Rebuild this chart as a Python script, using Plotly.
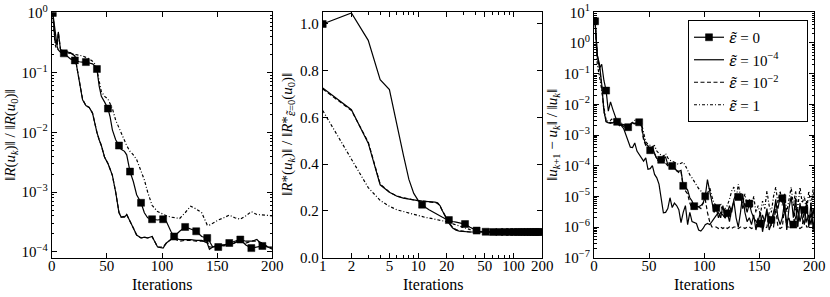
import plotly.graph_objects as go

# ---------------- data ----------------
EPS = '<span style="font-family:Noto Serif"><i>ε̃</i></span>'
PAD = "\u00a0" * 6
series_names = [EPS + " = 0" + PAD, EPS + " = 10<sup>−4</sup>" + PAD, EPS + " = 10<sup>−2</sup>" + PAD, EPS + " = 1" + PAD]

# Left panel: ||R(u_k)|| / ||R(u_0)||
it_left = [1, 2, 3, 4, 5, 6, 8, 11, 14, 17, 21, 23, 25, 28, 31, 34, 37, 39, 41, 43, 45, 48,
           51, 53, 55, 58, 61, 63, 66, 68, 71, 74, 77, 81, 84, 87, 91, 96, 101, 104, 108,
           111, 116, 121, 126, 131, 136, 141, 143, 146, 151, 156, 161, 166, 171, 176, 181,
           186, 191, 196, 200]
left_e0 = [1.0, 0.7, 0.45, 0.33, 0.27, 0.24, 0.22, 0.21, 0.19, 0.17, 0.16, 0.155, 0.152, 0.15,
           0.15, 0.145, 0.14, 0.13, 0.115, 0.06, 0.04, 0.032, 0.025, 0.018, 0.011, 0.0075,
           0.006, 0.0052, 0.0048, 0.0042, 0.0022, 0.0015, 0.0009, 0.00066, 0.00045, 0.00037,
           0.00035, 0.00034, 0.00035, 0.00032, 0.00022, 0.00018, 0.00022, 0.00026, 0.00024,
           0.00022, 0.00018, 0.00017, 0.00015, 0.00012, 0.00012, 0.00013, 0.00014, 0.00015,
           0.00016, 0.00013, 0.000115, 0.00012, 0.000125, 0.00012, 0.00012]
left_e4 = [1.0, 0.6, 0.35, 0.3, 0.3, 0.48, 0.24, 0.23, 0.225, 0.215, 0.19, 0.12, 0.065, 0.035,
           0.028, 0.026, 0.021, 0.014, 0.010, 0.0075, 0.006, 0.0038, 0.003, 0.0024, 0.0019,
           0.0010, 0.00045, 0.00038, 0.00038, 0.00042, 0.00033, 0.00025, 0.00019, 0.00017,
           0.000175, 0.00017, 0.00018, 0.00012, 0.000115, 0.00014, 0.00016, 0.00017, 0.00016,
           0.00016, 0.00016, 0.000155, 0.000155, 0.00014, 0.00011, 0.00012, 0.00013, 0.00013,
           0.00013, 0.00014, 0.00016, 0.00015, 0.00015, 0.00016, 0.00013, 0.00012, 0.00011]
left_e2 = [1.0, 0.6, 0.35, 0.3, 0.3, 0.47, 0.24, 0.23, 0.225, 0.215, 0.19, 0.12, 0.066, 0.036,
           0.028, 0.026, 0.021, 0.014, 0.010, 0.0076, 0.006, 0.0038, 0.003, 0.0024, 0.0019,
           0.0010, 0.00046, 0.00038, 0.00039, 0.00042, 0.00033, 0.00025, 0.00019, 0.00017,
           0.000175, 0.00017, 0.00018, 0.00012, 0.00012, 0.00014, 0.00016, 0.000165, 0.00015,
           0.000155, 0.000155, 0.00015, 0.00015, 0.00015, 0.00012, 0.00012, 0.00013, 0.000125,
           0.00013, 0.00014, 0.000155, 0.00014, 0.00015, 0.00015, 0.00014, 0.00012, 0.000115]
left_e1 = [1.0, 0.5, 0.3, 0.26, 0.25, 0.24, 0.23, 0.22, 0.215, 0.21, 0.205, 0.2, 0.2, 0.19,
           0.18, 0.17, 0.155, 0.14, 0.11, 0.07, 0.048, 0.04, 0.036, 0.03, 0.025, 0.016, 0.012,
           0.01, 0.007, 0.006, 0.0048, 0.0042, 0.0035, 0.0022, 0.0016, 0.001, 0.0006, 0.00047,
           0.00042, 0.0004, 0.00038, 0.00037, 0.00036, 0.00045, 0.00058, 0.00052, 0.00045,
           0.00028, 0.00028, 0.0003, 0.00034, 0.00037, 0.00041, 0.00037, 0.00035, 0.0004,
           0.00047, 0.00042, 0.00041, 0.00041, 0.0004]

# Middle panel: ||R*(u_k)|| / ||R*_{eps=0}(u_0)||
it_mid = [1, 2, 3, 4, 5, 6, 7, 8, 9, 10, 11, 12, 13, 14, 15, 16, 17, 18, 19, 20, 21, 23, 25,
          27, 29, 31, 35, 41, 45, 51, 61, 71, 81, 91, 101, 111, 121, 131, 141, 151, 161, 171,
          181, 191, 200]
mid_e0 = [1.0, 1.047, 0.93, 0.762, 0.719, 0.56, 0.44, 0.335, 0.275, 0.245, 0.227, 0.215,
          0.205, 0.197, 0.19, 0.183, 0.178, 0.173, 0.168, 0.164, 0.161, 0.155, 0.152, 0.149,
          0.146, 0.144, 0.13, 0.116, 0.112, 0.111, 0.11, 0.11, 0.11, 0.11, 0.11, 0.11, 0.11,
          0.11, 0.11, 0.11, 0.11, 0.11, 0.11, 0.11, 0.11]
mid_e4 = [0.726, 0.633, 0.49, 0.312, 0.28, 0.263, 0.255, 0.25, 0.247, 0.244, 0.242, 0.241,
          0.24, 0.24, 0.238, 0.235, 0.222, 0.2, 0.18, 0.162, 0.148, 0.127, 0.118, 0.114,
          0.112, 0.111, 0.11, 0.11, 0.11, 0.11, 0.11, 0.11, 0.11, 0.11, 0.11, 0.11, 0.11,
          0.11, 0.11, 0.11, 0.11, 0.11, 0.11, 0.11, 0.11]
mid_e2 = [0.722, 0.63, 0.495, 0.315, 0.281, 0.264, 0.256, 0.25, 0.247, 0.244, 0.242, 0.241,
          0.24, 0.239, 0.236, 0.232, 0.22, 0.2, 0.182, 0.165, 0.151, 0.13, 0.12, 0.115,
          0.113, 0.111, 0.11, 0.11, 0.11, 0.11, 0.11, 0.11, 0.11, 0.11, 0.11, 0.11, 0.11,
          0.11, 0.11, 0.11, 0.11, 0.11, 0.11, 0.11, 0.11]
mid_e1 = [0.63, 0.42, 0.30, 0.245, 0.22, 0.205, 0.197, 0.19, 0.185, 0.18, 0.176, 0.172, 0.17,
          0.167, 0.165, 0.162, 0.16, 0.158, 0.156, 0.154, 0.152, 0.145, 0.14, 0.135, 0.13,
          0.127, 0.12, 0.115, 0.112, 0.11, 0.11, 0.11, 0.11, 0.11, 0.11, 0.11, 0.11, 0.11,
          0.11, 0.11, 0.11, 0.11, 0.11, 0.11, 0.11]

# Right panel: ||u_{k+1} - u_k|| / ||u_k||  (iterations 1,3,5,...,199,200)
it_right = list(range(1, 200, 2)) + [200]
right_e0 = [5.1, 0.4, 0.15, 0.2, 0.06, 0.028, 0.006, 0.012, 0.007, 0.004,
            0.0027, 0.002, 0.0022, 0.0019, 0.0017, 0.0018, 0.0022, 0.0025, 0.0024, 0.0025,
            0.0026, 0.0022, 8e-4, 5e-4, 4.5e-4, 3.2e-4, 4e-4, 2.5e-4, 1.7e-4, 1.6e-4,
            1.55e-4, 1.7e-4, 1.9e-4, 1.1e-4, 1.0e-4, 9.8e-5, 8e-5, 7e-5, 6.5e-5, 7e-5,
            2.2e-5, 2e-5, 1.6e-5, 9e-6, 7e-6, 4.8e-6, 4.6e-6, 4.6e-6, 5e-6, 6e-6,
            1.0e-5, 3.5e-5, 1.5e-5, 6e-6, 3e-6, 4.2e-6, 2e-6, 3e-6, 2.5e-6, 2e-6,
            2.8e-6, 5e-6, 3e-6, 8e-6, 1.2e-5, 9.5e-6, 1.2e-5, 4e-6, 6e-6, 3e-6,
            5.8e-6, 3e-6, 2e-6, 1.5e-6, 1.2e-6, 1.3e-6, 2.5e-6, 1.5e-6, 3e-6, 2e-6,
            1.7e-6, 3e-6, 6e-6, 4e-6, 1e-5, 8.7e-6, 3e-6, 1.5e-6, 2e-6, 1e-6,
            1.2e-6, 2e-6, 4e-6, 1.5e-6, 3e-6, 3.6e-6, 1.5e-6, 2.5e-6, 1.2e-6, 4e-6,
            2e-6]
right_e4 = [5.1, 0.4, 0.2, 0.046, 0.006, 0.0027, 0.0025, 0.0026, 0.0025, 0.0028,
            0.0027, 0.0024, 0.002, 0.0016, 0.001, 6.5e-4, 4e-4, 3.9e-4, 5.5e-4, 3e-4,
            2.3e-4, 1.8e-4, 1.4e-4, 1.8e-4, 7.6e-5, 8e-5, 1e-4, 5.2e-5, 4e-5, 2.5e-5,
            9e-6, 2.9e-6, 3e-6, 4e-6, 9e-6, 4.3e-6, 6e-6, 5e-6, 3.7e-6, 1.4e-6,
            3e-6, 5e-6, 1.2e-6, 3e-6, 1.5e-6, 1.4e-6, 1.3e-6, 8e-7, 7.4e-7, 9e-7,
            1.2e-6, 1.3e-6, 1.2e-6, 1.5e-6, 2e-6, 2.4e-6, 3e-6, 2e-6, 5e-6, 2e-6,
            3e-6, 1.5e-6, 4e-6, 7e-6, 2e-6, 1e-6, 3e-6, 1.2e-5, 3e-6, 1.5e-6,
            2e-6, 1.2e-6, 2.5e-6, 8e-7, 1.5e-6, 3e-6, 7e-7, 1.5e-6, 4e-6, 8e-7,
            1.2e-6, 2e-6, 8e-6, 2e-6, 1.2e-6, 2e-6, 7e-6, 8e-7, 4e-6, 1e-5,
            2e-6, 9e-6, 1e-6, 6e-6, 2e-6, 1.2e-6, 7e-6, 1e-6, 6e-6, 8e-7,
            2e-6]
right_e2 = [5.1, 0.35, 0.15, 0.04, 0.006, 0.0028, 0.0025, 0.0024, 0.0025, 0.0024,
            0.0024, 0.0022, 0.0023, 0.0021, 0.002, 0.0019, 0.0022, 0.0024, 0.0023, 0.0024,
            0.0024, 0.002, 7e-4, 4.5e-4, 4e-4, 3e-4, 3.5e-4, 2.5e-4, 1.6e-4, 1.4e-4,
            1.4e-4, 1.7e-4, 1.2e-4, 1e-4, 9e-5, 9e-5, 8e-5, 7e-5, 6e-5, 6.5e-5,
            2e-5, 1.5e-5, 1.2e-5, 6e-6, 4e-6, 4e-6, 4e-6, 4.5e-6, 4e-6, 6e-6,
            8e-6, 3e-6, 1.5e-6, 1e-6, 1e-6, 1e-6, 9e-7, 1e-6, 9e-7, 1e-6,
            9e-7, 1e-6, 9e-7, 1e-6, 1e-6, 9e-7, 1e-6, 1e-6, 9e-7, 1e-6,
            1e-6, 9e-7, 1e-6, 1e-6, 2e-6, 1e-6, 1e-6, 9e-7, 1e-6, 3e-6,
            1e-6, 1e-6, 4e-6, 1e-6, 9e-7, 1e-6, 5e-6, 1e-6, 1e-6, 1.5e-6,
            1e-6, 6e-6, 1e-6, 9e-7, 1e-6, 4e-6, 1e-6, 1e-6, 3e-6, 1e-6,
            1e-6]
right_e1 = [5.1, 0.2, 0.08, 0.03, 0.008, 0.003, 0.0028, 0.003, 0.0035, 0.003,
            0.0028, 0.0025, 0.0024, 0.0022, 0.002, 0.0021, 0.0023, 0.0026, 0.003, 0.0028,
            0.0027, 0.0025, 1.2e-3, 6e-4, 5e-4, 4.5e-4, 4.2e-4, 4.5e-4, 3e-4, 2.5e-4,
            2.2e-4, 2e-4, 2.5e-4, 1.8e-4, 1.5e-4, 1.4e-4, 1.3e-4, 1.2e-4, 1.1e-4, 1.2e-4,
            1.3e-4, 1e-4, 7e-5, 5e-5, 4e-5, 3e-5, 2.2e-5, 1.8e-5, 1.5e-5, 1.2e-5,
            1e-5, 1.2e-5, 2e-5, 1e-5, 6e-6, 5e-6, 4e-6, 6e-6, 3e-6, 4e-6,
            5e-6, 8e-6, 1.5e-5, 2e-5, 8e-6, 2.5e-5, 1e-5, 6e-6, 1.2e-5, 5e-6,
            8e-6, 4e-6, 1e-5, 3e-6, 5e-6, 2.5e-6, 7e-6, 4e-6, 1.5e-5, 5e-6,
            3e-6, 1e-5, 2e-5, 6e-6, 1.5e-5, 5e-6, 1.2e-5, 3e-6, 8e-6, 2e-5,
            5e-6, 1.5e-5, 4e-6, 2e-5, 6e-6, 1e-5, 3e-6, 1.5e-5, 5e-6, 1.8e-5,
            8e-6]

# tick labels
x_lin_ticks = [0, 50, 100, 150, 200]
left_y_ticks = [1e-4, 1e-3, 1e-2, 1e-1, 1e0]
left_y_text = ["10<sup>−4</sup>", "10<sup>−3</sup>", "10<sup>−2</sup>", "10<sup>−1</sup>", "10<sup>0</sup>"]
mid_x_ticks = [1, 2, 5, 10, 20, 50, 100, 200]
mid_x_text = ["1", "2", "5", "10", "20", "50", "100", "200"]
mid_y_ticks = [0.0, 0.2, 0.4, 0.6, 0.8, 1.0]
mid_y_text = ["0.0", "0.2", "0.4", "0.6", "0.8", "1.0"]
right_y_ticks = [1e-7, 1e-6, 1e-5, 1e-4, 1e-3, 1e-2, 1e-1, 1e0, 1e1]
right_y_text = ["10<sup>−7</sup>", "10<sup>−6</sup>", "10<sup>−5</sup>", "10<sup>−4</sup>",
                "10<sup>−3</sup>", "10<sup>−2</sup>", "10<sup>−1</sup>", "10<sup>0</sup>", "10<sup>1</sup>"]
x_title = "Iterations"
left_y_title = "‖<i>R</i>(<i>u<sub>k</sub></i>)‖ / ‖<i>R</i>(<i>u</i><sub>0</sub>)‖"
mid_y_title = "‖<i>R</i>*(<i>u<sub>k</sub></i>)‖ / ‖<i>R</i>*<sub>" + EPS + "=0</sub>(<i>u</i><sub>0</sub>)‖"
right_y_title = "‖<i>u</i><sub><i>k</i>+1</sub> − <i>u<sub>k</sub></i>‖ / ‖<i>u<sub>k</sub></i>‖"

# ---------------- styling ----------------
FONT = "Liberation Serif"
styles = [
    dict(color="black", width=1.2),
    dict(color="black", width=1.2),
    dict(color="black", width=1.2, dash="4px,2.5px"),
    dict(color="black", width=1.2, dash="3px,2px,1px,2px"),
]


def marker_sizes(its):
    return [7 if (i - 1) % 10 == 0 else 0 for i in its]


fig = go.Figure()
panels = [
    ("x", "y", it_left, [left_e0, left_e4, left_e2, left_e1]),
    ("x2", "y2", it_mid, [mid_e0, mid_e4, mid_e2, mid_e1]),
    ("x3", "y3", it_right, [right_e0, right_e4, right_e2, right_e1]),
]
for xa, ya, its, vals in panels:
    for k in [3, 2, 1, 0]:
        kw = dict(x=its, y=vals[k], xaxis=xa, yaxis=ya, showlegend=False,
                  line=styles[k], hoverinfo="skip")
        if k == 0:
            kw["mode"] = "lines+markers"
            kw["marker"] = dict(symbol="square", size=marker_sizes(its), color="black",
                                opacity=1, line=dict(width=0.5, color="black"))
        else:
            kw["mode"] = "lines"
        fig.add_trace(go.Scatter(**kw))

for k in range(4):
    kw = dict(x=[None], y=[None], xaxis="x3", yaxis="y3", name=series_names[k],
              line=styles[k], showlegend=True)
    if k == 0:
        kw["mode"] = "lines+markers"
        kw["marker"] = dict(symbol="square", size=7, color="black",
                            line=dict(width=0.5, color="black"))
    else:
        kw["mode"] = "lines"
    fig.add_trace(go.Scatter(**kw))

W, H = 830, 297
ytop, ybot = 12.3, 257.7
ydom = [1 - ybot / H, 1 - ytop / H]

axis_common = dict(showline=True, linecolor="black", linewidth=1, mirror="allticks",
                   ticks="inside", ticklen=5, tickcolor="black", tickwidth=1,
                   showgrid=False, zeroline=False, automargin=False,
                   tickfont=dict(family=FONT, size=15, color="black"))
xaxis_extra = dict(ticklabelstandoff=-6)
minor_log = dict(ticks="inside", ticklen=2.5, tickcolor="black", showgrid=False)


def log_minor(majors):
    out = []
    for m in majors[:-1]:
        out += [m * j for j in range(2, 10)]
    return out


title_font = dict(family=FONT, size=16, color="black")
annotations = []
for cx in [(51.7 + 272.3) / 2, (322.7 + 542.3) / 2, (594 + 814.3) / 2]:
    annotations.append(dict(text=x_title, xref="paper", yref="paper", x=cx / W, y=1 - 284 / H,
                            xanchor="center", yanchor="middle", showarrow=False, font=title_font))
for cx, t in [(11, left_y_title), (288, mid_y_title), (553, right_y_title)]:
    annotations.append(dict(text=t, xref="paper", yref="paper", x=cx / W, y=1 - 135 / H,
                            xanchor="center", yanchor="middle", textangle=-90, showarrow=False,
                            font=dict(family=FONT, size=15, color="black")))

fig.update_layout(
    template="none",
    width=W, height=H, margin=dict(l=0, r=0, t=0, b=0, autoexpand=False),
    paper_bgcolor="white", plot_bgcolor="white",
    font=dict(family=FONT, size=15, color="black"),
    annotations=annotations,
    legend=dict(x=688 / W, y=1 - 20 / H, xanchor="left", yanchor="top",
                bordercolor="black", borderwidth=1, bgcolor="white",
                font=dict(family=FONT, size=15), tracegroupgap=0),
    xaxis=dict(domain=[51.7 / W, 272.3 / W], range=[0, 200], tickvals=x_lin_ticks,
               anchor="y", **axis_common, **xaxis_extra),
    yaxis=dict(domain=ydom, type="log", range=[-4.1, 0.01], tickvals=left_y_ticks,
               ticktext=left_y_text,
               minor=dict(tickvals=log_minor(left_y_ticks), **minor_log),
               anchor="x", **axis_common),
    xaxis2=dict(domain=[322.7 / W, 542.3 / W], type="log", range=[0, 2.30103],
                tickvals=mid_x_ticks, ticktext=mid_x_text,
                minor=dict(tickvals=[3, 4, 6, 7, 8, 9, 30, 40, 60, 70, 80, 90], **minor_log),
                anchor="y2", **axis_common, **xaxis_extra),
    yaxis2=dict(domain=ydom, range=[0, 1.05], tickvals=mid_y_ticks, ticktext=mid_y_text,
                anchor="x2", **axis_common),
    xaxis3=dict(domain=[594 / W, 814.3 / W], range=[0, 200], tickvals=x_lin_ticks,
                anchor="y3", **axis_common, **xaxis_extra),
    yaxis3=dict(domain=ydom, type="log", range=[-7, 1], tickvals=right_y_ticks,
                ticktext=right_y_text,
                minor=dict(tickvals=log_minor(right_y_ticks), **minor_log),
                anchor="x3", **axis_common),
)

fig.write_html("out.html", config={"displayModeBar": False},
               post_script="document.body.style.margin='0px';document.body.style.overflow='hidden';")
